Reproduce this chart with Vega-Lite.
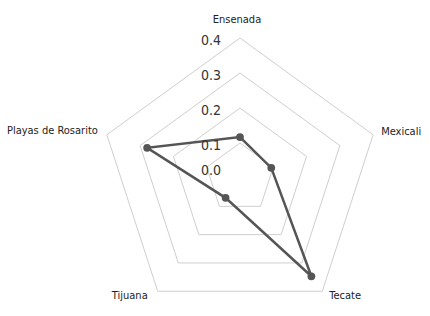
{
  "$schema": "https://vega.github.io/schema/vega-lite/v6.json",
  "width": 430,
  "height": 316,
  "autosize": {"type": "none"},
  "padding": 0,
  "config": {"view": {"stroke": null}, "font": "DejaVu Sans Condensed"},
  "datasets": {
    "cities": [
      {"city": "Ensenada", "value": 0.117},
      {"city": "Mexicali", "value": 0.094},
      {"city": "Tecate", "value": 0.347},
      {"city": "Tijuana", "value": 0.07},
      {"city": "Playas de Rosarito", "value": 0.279}
    ],
    "grid": [
      {"level": 0.1, "city": ["Ensenada", "Mexicali", "Tecate", "Tijuana", "Playas de Rosarito"]},
      {"level": 0.2, "city": ["Ensenada", "Mexicali", "Tecate", "Tijuana", "Playas de Rosarito"]},
      {"level": 0.3, "city": ["Ensenada", "Mexicali", "Tecate", "Tijuana", "Playas de Rosarito"]},
      {"level": 0.4, "city": ["Ensenada", "Mexicali", "Tecate", "Tijuana", "Playas de Rosarito"]}
    ],
    "ticks": [
      {"level": 0.0, "label": "0.0"},
      {"level": 0.1, "label": "0.1"},
      {"level": 0.2, "label": "0.2"},
      {"level": 0.3, "label": "0.3"},
      {"level": 0.4, "label": "0.4"}
    ]
  },
  "layer": [
    {
      "data": {"name": "grid"},
      "transform": [
        {"flatten": ["city"]},
        {"calculate": "indexof(['Ensenada','Mexicali','Tecate','Tijuana','Playas de Rosarito'], datum.city)", "as": "idx"},
        {"calculate": "datum.level * sin(datum.idx * 2 * PI / 5)", "as": "px"},
        {"calculate": "datum.level * cos(datum.idx * 2 * PI / 5)", "as": "py"}
      ],
      "mark": {"type": "line", "interpolate": "linear-closed", "stroke": "#cfcfcf", "strokeWidth": 1},
      "encoding": {
        "x": {"field": "px", "type": "quantitative", "scale": {"domain": [-0.6857, 0.5429]}, "axis": null},
        "y": {"field": "py", "type": "quantitative", "scale": {"domain": [-0.3943, 0.5086]}, "axis": null},
        "detail": {"field": "level"},
        "order": {"field": "idx"}
      }
    },
    {
      "data": {"name": "cities"},
      "transform": [
        {"calculate": "indexof(['Ensenada','Mexicali','Tecate','Tijuana','Playas de Rosarito'], datum.city)", "as": "idx"},
        {"calculate": "datum.value * sin(datum.idx * 2 * PI / 5)", "as": "px"},
        {"calculate": "datum.value * cos(datum.idx * 2 * PI / 5)", "as": "py"}
      ],
      "layer": [
        {
          "mark": {"type": "line", "interpolate": "linear-closed", "stroke": "#555555", "strokeWidth": 2.5},
          "encoding": {
            "x": {"field": "px", "type": "quantitative", "scale": {"domain": [-0.6857, 0.5429]}, "axis": null},
            "y": {"field": "py", "type": "quantitative", "scale": {"domain": [-0.3943, 0.5086]}, "axis": null},
            "order": {"field": "idx"}
          }
        },
        {
          "mark": {"type": "circle", "color": "#555555", "size": 60, "opacity": 1},
          "encoding": {
            "x": {"field": "px", "type": "quantitative", "scale": {"domain": [-0.6857, 0.5429]}, "axis": null},
            "y": {"field": "py", "type": "quantitative", "scale": {"domain": [-0.3943, 0.5086]}, "axis": null}
          }
        }
      ]
    },
    {
      "data": {"name": "ticks"},
      "encoding": {
        "x": {"datum": 0, "type": "quantitative", "scale": {"domain": [-0.6857, 0.5429]}, "axis": null},
        "y": {"field": "level", "type": "quantitative", "scale": {"domain": [-0.3943, 0.5086]}, "axis": null},
        "text": {"field": "label"}
      },
      "layer": [
        {"transform": [{"filter": "datum.level > 0"}], "mark": {"type": "text", "fontSize": 14, "color": "#333333", "dx": -29, "dy": 3, "align": "center", "baseline": "middle"}},
        {"transform": [{"filter": "datum.level == 0"}], "mark": {"type": "text", "fontSize": 14, "color": "#333333", "dx": -29, "dy": -7, "align": "center", "baseline": "middle"}}
      ]
    },
    {
      "data": {"name": "cities"},
      "transform": [
        {"calculate": "indexof(['Ensenada','Mexicali','Tecate','Tijuana','Playas de Rosarito'], datum.city)", "as": "idx"},
        {"calculate": "0.4 * sin(datum.idx * 2 * PI / 5)", "as": "px"},
        {"calculate": "0.4 * cos(datum.idx * 2 * PI / 5)", "as": "py"}
      ],
      "encoding": {
        "x": {"field": "px", "type": "quantitative", "scale": {"domain": [-0.6857, 0.5429]}, "axis": null},
        "y": {"field": "py", "type": "quantitative", "scale": {"domain": [-0.3943, 0.5086]}, "axis": null},
        "text": {"field": "city"}
      },
      "layer": [
        {"transform": [{"filter": "datum.city == 'Ensenada'"}], "mark": {"type": "text", "fontSize": 11, "color": "#222222", "align": "center", "baseline": "middle", "dx": -3, "dy": -18}},
        {"transform": [{"filter": "datum.city == 'Mexicali'"}], "mark": {"type": "text", "fontSize": 11, "color": "#222222", "align": "left", "baseline": "middle", "dx": 8, "dy": -3}},
        {"transform": [{"filter": "datum.city == 'Tecate'"}], "mark": {"type": "text", "fontSize": 11, "color": "#222222", "align": "left", "baseline": "middle", "dx": 7, "dy": 5}},
        {"transform": [{"filter": "datum.city == 'Tijuana'"}], "mark": {"type": "text", "fontSize": 11, "color": "#222222", "align": "right", "baseline": "middle", "dx": -10, "dy": 5}},
        {"transform": [{"filter": "datum.city == 'Playas de Rosarito'"}], "mark": {"type": "text", "fontSize": 11, "color": "#222222", "align": "right", "baseline": "middle", "dx": -9, "dy": -4}}
      ]
    }
  ]
}
